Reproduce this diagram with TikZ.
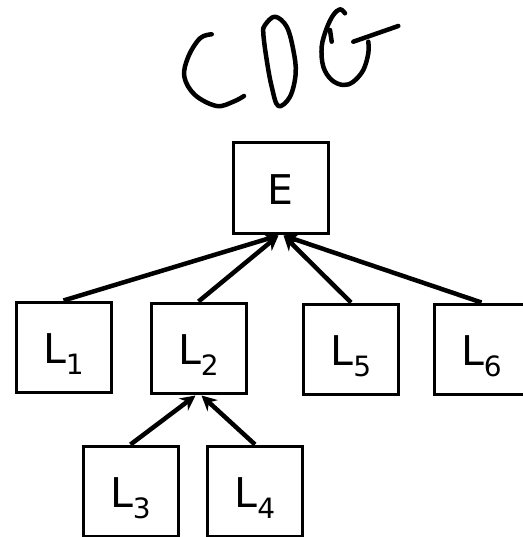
\documentclass[tikz,border=0pt]{standalone}
\usepackage{fontspec}
\setmainfont{DejaVu Sans}
\usetikzlibrary{arrows.meta}
% a capital with some extra room above it, so that it sits a little low in its box
\newcommand\capletter[1]{\raisebox{0pt}[\dimexpr\height+4pt\relax]{\fontsize{41}{48}\selectfont #1}}
\newcommand\lsub[1]{\capletter{L}\kern-0.5pt\raisebox{-11pt}[0pt][0pt]{\fontsize{28}{32}\selectfont #1}}
\begin{document}
\begin{tikzpicture}[x=1pt,y=-1pt,
  box/.style={draw,line width=3pt,minimum width=95pt,minimum height=90pt,inner sep=0pt},
  link/.style={line width=4.5pt,-{Stealth[length=15pt,width=15pt]}},
  hand/.style={line width=4.5pt,line cap=round,line join=round}]
\useasboundingbox (0,0) rectangle (522,537);

% handwritten title
\draw[hand] plot[smooth,tension=0.6] coordinates {(211.7,34.3) (200,38.3) (188.3,56.7) (184.3,76.7) (195,95) (216.7,106) (233.3,101.7) (244,96)};
\draw[hand] plot[smooth cycle,tension=0.6] coordinates {(275,16.7) (265,25) (263.3,33.3) (266.7,60) (271.7,86.7) (278.3,106) (290,96.7) (295.7,73.3) (293.3,50) (286.7,26.7)};
\draw[hand] plot[smooth,tension=0.6] coordinates {(345,13.3) (340,9.3) (333.3,15) (326.7,28.3) (321.7,46.7) (323.3,66.7) (331.7,80) (343.3,85) (353.3,81.7) (363.3,70) (368.3,53.3) (368.3,41.7)};
\draw[hand] (353.3,41.7) -- (398.3,26);
\draw[hand] (330,30) -- (331.7,41.7);

% boxes
\node[box] (E) at (280.5,188) {\capletter{E}};
\node[box] (L1) at (63.5,347) {\lsub{1}};
\node[box] (L2) at (198.5,348) {\lsub{2}};
\node[box] (L5) at (351,349) {\lsub{5}};
\node[box] (L6) at (481.5,349) {\lsub{6}};
\node[box] (L3) at (130.5,491) {\lsub{3}};
\node[box] (L4) at (255,491) {\lsub{4}};

% arrow end points on the bottoms of E and L2
\coordinate (eL) at ([xshift=-2pt,yshift=-1pt]E.south);
\coordinate (eR) at ([xshift=3pt,yshift=-1pt]E.south);
\coordinate (l2L) at ([xshift=-3pt,yshift=-1pt]L2.south);
\coordinate (l2R) at ([xshift=3pt,yshift=-1pt]L2.south);

\draw[link] (L1.north) -- (eL);
\draw[link] (L2.north) -- (eL);
\draw[link] (L5.north) -- (eR);
\draw[link] (L6.north) -- (eR);
\draw[link] (L3.north) -- (l2L);
\draw[link] (L4.north) -- (l2R);
\end{tikzpicture}
\end{document}
